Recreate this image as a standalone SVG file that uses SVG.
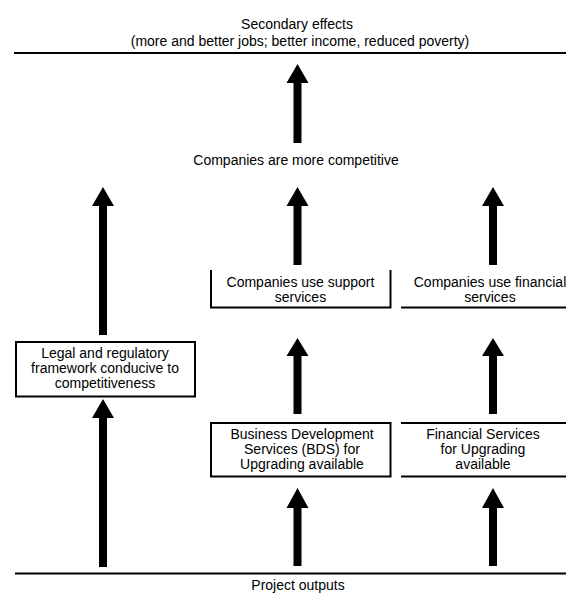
<svg xmlns="http://www.w3.org/2000/svg" width="566" height="597" viewBox="0 0 566 597">
<style>
text{font-family:"Liberation Sans",Arial,sans-serif;font-size:14px;fill:#000;text-anchor:middle}
.ln{stroke:#000;stroke-width:2;fill:none}
.box{stroke:#000;stroke-width:2;fill:#fff}
.arr{fill:#000;stroke:none}
</style>
<rect width="566" height="597" fill="#fff"/>
<g id="secondary-effects">
<text x="297" y="29">Secondary effects</text>
<text x="300" y="46">(more and better jobs; better income, reduced poverty)</text>
<line class="ln" x1="14" y1="53" x2="566" y2="53"/>
</g>
<g id="competitive">
<text x="296" y="165">Companies are more competitive</text>
</g>
<g id="use-support">
<path class="ln" d="M211,270 V307.5 H390.5 V270"/>
<text x="300.5" y="287">Companies use support</text>
<text x="300.5" y="302">services</text>
</g>
<g id="use-financial">
<line class="ln" x1="401" y1="307.5" x2="566" y2="307.5"/>
<text x="490" y="287">Companies use financial</text>
<text x="490" y="302">services</text>
</g>
<g id="legal">
<rect class="box" x="16" y="342" width="179" height="54.5"/>
<text x="105" y="358">Legal and regulatory</text>
<text x="105" y="373">framework conducive to</text>
<text x="105" y="388">competitiveness</text>
</g>
<g id="bds">
<rect class="box" x="211" y="423" width="179.5" height="53.5"/>
<text x="302" y="439">Business Development</text>
<text x="302" y="454">Services (BDS) for</text>
<text x="302" y="469">Upgrading available</text>
</g>
<g id="fs">
<line class="ln" x1="401" y1="423" x2="566" y2="423"/>
<line class="ln" x1="401" y1="476.5" x2="566" y2="476.5"/>
<text x="483" y="439">Financial Services</text>
<text x="483" y="454">for Upgrading</text>
<text x="483" y="469">available</text>
</g>
<g id="project-outputs">
<line class="ln" x1="15" y1="573.5" x2="566" y2="573.5"/>
<text x="298" y="590">Project outputs</text>
</g>
<g id="connectors">
<path class="arr" d="M297.5,64 L308.5,83 L301.5,83 L301.5,143 L293.5,143 L293.5,83 L286.5,83 Z"/>
<path class="arr" d="M103,187 L114,206 L107,206 L107,335 L99,335 L99,206 L92,206 Z"/>
<path class="arr" d="M297.5,187 L308.5,206 L301.5,206 L301.5,265 L293.5,265 L293.5,206 L286.5,206 Z"/>
<path class="arr" d="M493,187 L504,206 L497,206 L497,265 L489,265 L489,206 L482,206 Z"/>
<path class="arr" d="M297.5,338 L308.5,356 L301.5,356 L301.5,414 L293.5,414 L293.5,356 L286.5,356 Z"/>
<path class="arr" d="M493,338 L504,356 L497,356 L497,414 L489,414 L489,356 L482,356 Z"/>
<path class="arr" d="M103,399 L114,418 L107,418 L107,567 L99,567 L99,418 L92,418 Z"/>
<path class="arr" d="M297.5,488 L308.5,508 L301.5,508 L301.5,566 L293.5,566 L293.5,508 L286.5,508 Z"/>
<path class="arr" d="M493,488 L504,508 L497,508 L497,566 L489,566 L489,508 L482,508 Z"/>
</g>
</svg>
